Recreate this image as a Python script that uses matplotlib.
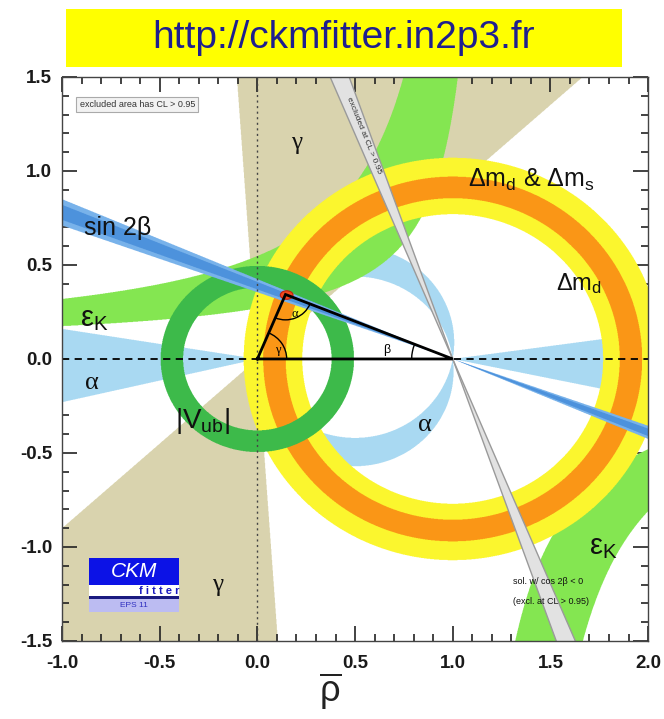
import numpy as np
import matplotlib.pyplot as plt
from matplotlib.patches import Rectangle, Arc, Ellipse
from matplotlib.ticker import MultipleLocator

plt.rcParams['font.family'] = ['Liberation Sans', 'DejaVu Sans']
plt.rcParams['mathtext.fontset'] = 'custom'
plt.rcParams['mathtext.rm'] = 'Liberation Sans'
plt.rcParams['mathtext.it'] = 'Liberation Sans'
plt.rcParams['mathtext.bf'] = 'Liberation Sans:bold'

# apex of the unitarity triangle (rho-bar, eta-bar)
apex = (0.144, 0.343)

# gamma: allowed direction (deg) of the ray from the origin, plus the +180 copy
gamma_deg = [42.0, 94.0]
# alpha: two circles through (0,0) and (1,0) with centres (0.5, c)
alpha_circle_c = [0.088, -0.066]
# alpha: near-degenerate solutions, wedge slopes at (0,0) and at (1,0)
alpha_left_slopes = [0.23, -0.16]
alpha_right_slopes = [-0.208, 0.138]
# eps_K upper branch: eta = b + k / (rho0 - rho), outer / inner edge
epsk_b = 0.061
epsk_up_rho0 = [1.13, 1.20]
epsk_up_k = [0.55, 0.25]
# eps_K lower branch: rho = rho0 + k / |eta|, left / right edge
epsk_lo_rho0 = [1.0, 1.275]
epsk_lo_k = [0.48, 0.587]
# Delta m_d and Delta m_d & Delta m_s rings around (1, 0)
dmd_r = [0.77, 1.07]
dms_r = [0.855, 0.97]
# |Vub| ring around (0, 0)
vub_r = [0.38, 0.495]
# sin 2beta, tan(beta) range of the band through (1, 0)
sin2b_tan_outer = [0.355, 0.425]
sin2b_tan_inner = [0.37, 0.41]
# second sin 2beta solution with cos 2beta < 0
beta2_tan = [2.39, 2.83]

colors = {
    'gamma': '#d9d3ae',
    'alpha': '#a9d9f2',
    'epsk': '#84e651',
    'dmd': '#fbf62e',
    'dms': '#fa9616',
    'vub': '#3dba4a',
    'sin2b_out': '#78b2ea',
    'sin2b_in': '#4d92dc',
    'beta2': '#e2e2e2',
}

rho = np.linspace(-1.0, 2.0, 1500)
eta = np.linspace(-1.5, 1.5, 1500)
R, E = np.meshgrid(rho, eta)

fig = plt.figure(figsize=(6.64, 7.19), dpi=100)
ax = fig.add_axes([0.0934, 0.1085, 0.8826, 0.7845])


def band(mask, color, z):
    ax.contourf(R, E, mask.astype(float), levels=[0.5, 1.5],
                colors=[color], zorder=z, antialiased=True)


def tan_band(t0, t1):
    with np.errstate(divide='ignore', invalid='ignore'):
        t = E / (1.0 - R)
    return (t >= t0) & (t <= t1)


# gamma
ang = np.degrees(np.arctan2(E, R))
g0, g1 = gamma_deg
band(((ang >= g0) & (ang <= g1)) | ((ang >= g0 - 180) & (ang <= g1 - 180)),
     colors['gamma'], 1)

# alpha
inside = [(R - 0.5) ** 2 + (E - c) ** 2 < 0.25 + c ** 2 for c in alpha_circle_c]
lune = inside[0] ^ inside[1]
left = (R < 0) & (E >= alpha_left_slopes[0] * R) & (E <= alpha_left_slopes[1] * R)
right = (R > 1) & (E >= alpha_right_slopes[0] * (R - 1)) & (E <= alpha_right_slopes[1] * (R - 1))
band(lune | left | right, colors['alpha'], 2)

# eps_K
with np.errstate(divide='ignore', invalid='ignore'):
    de = E - epsk_b
    r_out = epsk_up_rho0[0] - epsk_up_k[0] / de
    r_in = epsk_up_rho0[1] - epsk_up_k[1] / de
    up = (de > 0) & (R >= r_out) & (R <= r_in)
    r_l = epsk_lo_rho0[0] + epsk_lo_k[0] / (-E)
    r_r = epsk_lo_rho0[1] + epsk_lo_k[1] / (-E)
    lo = (E < 0) & (R >= r_l) & (R <= r_r)
band(up | lo, colors['epsk'], 3)

# Delta m rings
d1 = np.hypot(R - 1.0, E)
band((d1 >= dmd_r[0]) & (d1 <= dmd_r[1]), colors['dmd'], 4)
band((d1 >= dms_r[0]) & (d1 <= dms_r[1]), colors['dms'], 5)

# |Vub|
d0 = np.hypot(R, E)
band((d0 >= vub_r[0]) & (d0 <= vub_r[1]), colors['vub'], 6)

# sin 2beta
band(tan_band(*sin2b_tan_outer), colors['sin2b_out'], 7)
band(tan_band(*sin2b_tan_inner), colors['sin2b_in'], 7.5)

# excluded sin 2beta solution
band(tan_band(*beta2_tan), colors['beta2'], 8)
for t in beta2_tan:
    ax.plot(rho, t * (1.0 - rho), color='#9a9a9a', lw=1.0, zorder=8.5)
ax.text(0.545, 1.19, 'excluded at CL > 0.95', rotation=-68, fontsize=6,
        ha='center', va='center', color='#333333', zorder=12)

# axes of the plane
ax.axhline(0, color='black', lw=1.3, ls=(0, (4, 3)), zorder=9)
ax.axvline(0, color='#444444', lw=1.0, ls=(0, (1.5, 2.5)), zorder=9)

# apex region and triangle
ax.add_patch(Ellipse((0.15, 0.34), 0.065, 0.045, facecolor='#f24a1e',
                     edgecolor='#c81e0a', lw=0.8, zorder=9.5))
ax.plot([0, 1, apex[0], 0], [0, 0, apex[1], 0], color='black', lw=2.0,
        solid_joinstyle='miter', zorder=10)
a_dir1 = np.degrees(np.arctan2(-apex[1], 1 - apex[0]))
a_dir2 = np.degrees(np.arctan2(-apex[1], -apex[0]))
g_dir = np.degrees(np.arctan2(apex[1], apex[0]))
ax.add_patch(Arc(apex, 0.27, 0.27, theta1=a_dir2, theta2=a_dir1, color='black', lw=1.0, zorder=10))
ax.add_patch(Arc((0, 0), 0.3, 0.3, theta1=0, theta2=g_dir, color='black', lw=1.0, zorder=10))
ax.add_patch(Arc((1, 0), 0.42, 0.42, theta1=180 + a_dir1, theta2=180, color='black', lw=1.0, zorder=10))
ax.text(0.19, 0.24, 'α', fontsize=9, family='Liberation Serif', ha='center', va='center', zorder=11)
ax.text(0.105, 0.05, 'γ', fontsize=9, family='Liberation Serif', ha='center', va='center', zorder=11)
ax.text(0.66, 0.05, 'β', fontsize=9, ha='center', va='center', zorder=11)

# constraint labels
lab = dict(color='#111111', zorder=11, va='center')
ax.text(-0.89, 0.695, 'sin 2β', fontsize=18, ha='left', **lab)
ax.text(-0.91, 0.21, 'ε$_\\mathrm{K}$', fontsize=21, ha='left', **lab)
ax.text(-0.88, -0.13, 'α', fontsize=19, family='Liberation Serif', ha='left', **lab)
ax.text(-0.42, -0.33, '|V$_\\mathrm{ub}$|', fontsize=20, ha='left', **lab)
ax.text(0.86, -0.35, 'α', fontsize=19, family='Liberation Serif', ha='center', **lab)
ax.text(0.2, 1.15, 'γ', fontsize=18, family='Liberation Serif', ha='center', **lab)
ax.text(-0.205, -1.2, 'γ', fontsize=18, family='Liberation Serif', ha='center', **lab)
ax.text(1.08, 0.95, 'Δm$_\\mathrm{d}$ & Δm$_\\mathrm{s}$', fontsize=18, ha='left', **lab)
ax.text(1.53, 0.40, 'Δm$_\\mathrm{d}$', fontsize=17, ha='left', **lab)
ax.text(1.70, -1.0, 'ε$_\\mathrm{K}$', fontsize=21, ha='left', **lab)
ax.text(1.31, -1.185, 'sol. w/ cos 2β < 0', fontsize=6.5, ha='left', **lab)
ax.text(1.31, -1.29, '(excl. at CL > 0.95)', fontsize=6.5, ha='left', **lab)
ax.text(-0.91, 1.355, 'excluded area has CL > 0.95', fontsize=6.5, ha='left', va='center',
        color='#333333', zorder=12,
        bbox=dict(boxstyle='square,pad=0.35', facecolor='#f2f2f2', edgecolor='#aaaaaa', lw=0.8))

# CKMfitter logo
ax.add_patch(Rectangle((-0.86, -1.2), 0.46, 0.14, facecolor='#0c12e6', edgecolor='none', zorder=11))
ax.add_patch(Rectangle((-0.86, -1.265), 0.46, 0.065, facecolor='white', edgecolor='none', zorder=11))
ax.add_patch(Rectangle((-0.86, -1.275), 0.46, 0.012, facecolor='#1a1a80', edgecolor='none', zorder=11))
ax.add_patch(Rectangle((-0.86, -1.345), 0.46, 0.07, facecolor='#bcbcf2', edgecolor='none', zorder=11))
ax.text(-0.63, -1.128, 'CKM', fontsize=15, style='italic', color='white', ha='center', va='center', zorder=12)
ax.text(-0.5, -1.232, 'f i t t e r', fontsize=8, weight='bold', color='#1a1ac0', ha='center', va='center', zorder=12)
ax.text(-0.63, -1.31, 'EPS 11', fontsize=6, color='#3030c0', ha='center', va='center', zorder=12)

ax.set_xlim(-1.0, 2.0)
ax.set_ylim(-1.5, 1.5)
ax.xaxis.set_major_locator(MultipleLocator(0.5))
ax.yaxis.set_major_locator(MultipleLocator(0.5))
ax.xaxis.set_minor_locator(MultipleLocator(0.1))
ax.yaxis.set_minor_locator(MultipleLocator(0.1))
ax.tick_params(which='both', direction='in', top=True, right=True, color='#222222', width=1.2)
ax.tick_params(which='major', length=11, labelsize=13.5, pad=7)
ax.tick_params(axis='x', which='major', pad=10)
ax.tick_params(which='minor', length=5)
ax.xaxis.set_major_formatter(plt.FuncFormatter(lambda v, p: f'{v:.1f}'))
ax.yaxis.set_major_formatter(plt.FuncFormatter(lambda v, p: f'{v:.1f}'))
for t in ax.get_xticklabels() + ax.get_yticklabels():
    t.set_fontweight('bold')
    t.set_color('#1a1a1a')
for s in ax.spines.values():
    s.set_color('#444444')
    s.set_linewidth(1.0)
    s.set_zorder(13)

fig.text(0.497, 0.038, r'$\overline{\rho}$', fontsize=26, ha='center', va='center', color='#222222')

# header banner
fig.patches.append(Rectangle((0.0994, 0.9068), 0.837, 0.0807, transform=fig.transFigure,
                             facecolor='#ffff00', edgecolor='none', zorder=0))
fig.text(0.518, 0.947, 'http://ckmfitter.in2p3.fr', fontsize=28, ha='center', va='center',
         color='#1f1f8f')

fig.savefig('out.png', dpi=100)
